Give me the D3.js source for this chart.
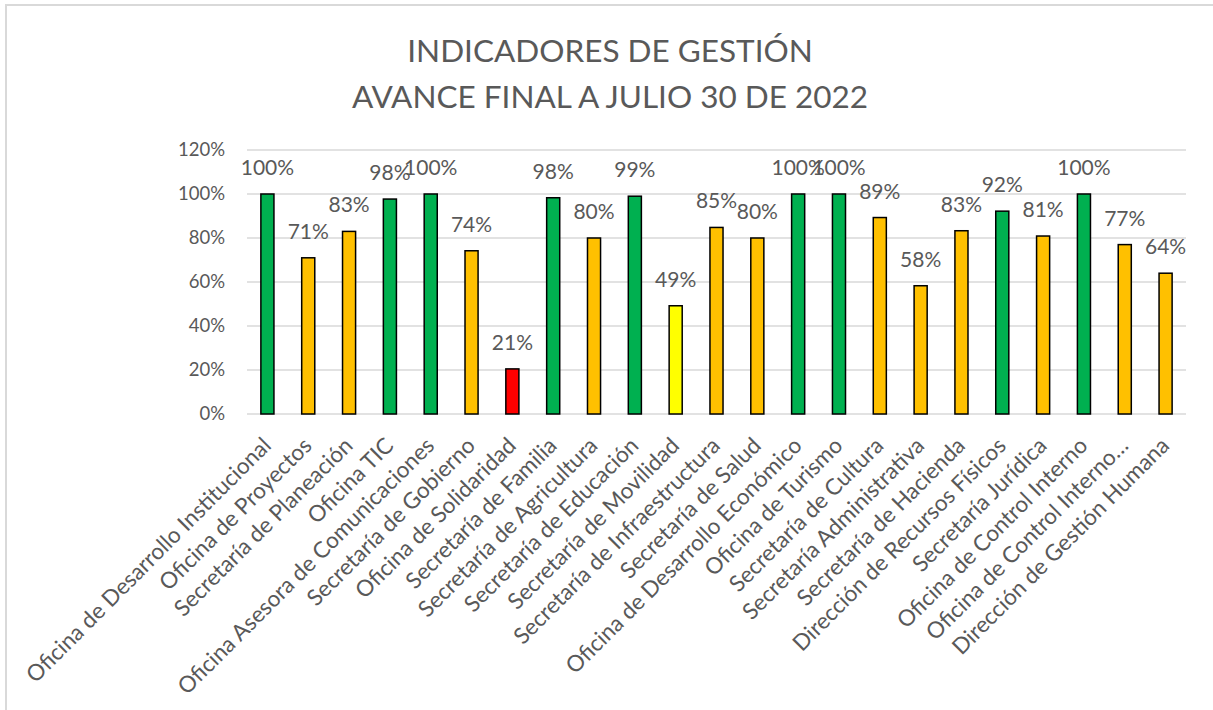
<!DOCTYPE html>
<html>
<head>
<meta charset="utf-8">
<script src="https://cdn.jsdelivr.net/npm/d3@7"></script>
<style>
  body { margin: 0; background: #fff; }
  svg text { font-family: Lato, "Open Sans", sans-serif; fill: #595959; }
</style>
</head>
<body>
<div id="chart"></div>
<script>
// data
var categories = [
    "Oficina de Desarrollo Institucional", "Oficina de Proyectos", "Secretaría de Planeación",
    "Oficina TIC", "Oficina Asesora de Comunicaciones", "Secretaría de Gobierno",
    "Oficina de Solidaridad", "Secretaría de Familia", "Secretaría de Agricultura",
    "Secretaría de Educación", "Secretaría de Movilidad", "Secretaría de Infraestructura",
    "Secretaría de Salud", "Oficina de Desarrollo Económico", "Oficina de Turismo",
    "Secretaría de Cultura", "Secretaría Administrativa", "Secretaría de Hacienda",
    "Dirección de Recursos Físicos", "Secretaría Jurídica", "Oficina de Control Interno",
    "Oficina de Control Interno…", "Dirección de Gestión Humana"
];
var values = [1.00, 0.71, 0.83, 0.977, 1.00, 0.742, 0.205, 0.983, 0.80, 0.99, 0.492, 0.848,
    0.80, 1.00, 1.00, 0.893, 0.583, 0.833, 0.922, 0.809, 1.00, 0.77, 0.64];
var barColors = ["#00B050", "#FFC000", "#FFC000", "#00B050", "#00B050", "#FFC000", "#FF0000",
    "#00B050", "#FFC000", "#00B050", "#FFFF00", "#FFC000", "#FFC000", "#00B050", "#00B050",
    "#FFC000", "#FFC000", "#FFC000", "#00B050", "#FFC000", "#00B050", "#FFC000", "#FFC000"];
var yTicks = [0, 0.2, 0.4, 0.6, 0.8, 1.0, 1.2];
var titleLines = ["INDICADORES DE GESTIÓN", "AVANCE FINAL A JULIO 30 DE 2022"];

var W = 1213, H = 710;
var plot = { left: 247, right: 1186, top: 150, bottom: 414 };

var svg = d3.select("#chart").append("svg")
    .attr("width", W)
    .attr("height", H);

// chart border (only top and left show in the reference)
svg.append("path")
    .attr("d", "M6," + H + "V5H" + W)
    .attr("fill", "none")
    .attr("stroke", "#d9d9d9")
    .attr("stroke-width", 2);

svg.selectAll(".title")
    .data(titleLines)
    .enter().append("text")
    .attr("class", "title")
    .attr("x", 610)
    .attr("y", function(d, i) { return 62 + i * 46; })
    .attr("text-anchor", "middle")
    .style("font-size", "31.5px")
    .text(function(d) { return d; });

var x = d3.scaleBand()
    .domain(categories)
    .range([plot.left, plot.right])
    .paddingInner(0.68)
    .paddingOuter(0.34);

var y = d3.scaleLinear()
    .domain([0, 1.2])
    .range([plot.bottom, plot.top]);

// gridlines
svg.append("g")
    .selectAll("line")
    .data(yTicks)
    .enter().append("line")
    .attr("x1", plot.left)
    .attr("x2", plot.right)
    .attr("y1", function(d) { return y(d); })
    .attr("y2", function(d) { return y(d); })
    .attr("stroke", "#d9d9d9")
    .attr("stroke-width", 1.5);

// y axis labels
var yAxis = d3.axisLeft(y)
    .tickValues(yTicks)
    .tickFormat(d3.format(".0%"))
    .tickSize(0)
    .tickPadding(22);

var gy = svg.append("g")
    .attr("transform", "translate(" + plot.left + ",0)")
    .call(yAxis);
gy.select(".domain").remove();
gy.selectAll("text")
    .style("font-size", "18.5px")
    .attr("fill", "#595959");

// bars
svg.selectAll(".bar")
    .data(values)
    .enter().append("rect")
    .attr("class", "bar")
    .attr("x", function(d, i) { return x(categories[i]); })
    .attr("width", x.bandwidth())
    .attr("y", function(d) { return y(d); })
    .attr("height", function(d) { return plot.bottom - y(d); })
    .attr("fill", function(d, i) { return barColors[i]; })
    .attr("stroke", "#000")
    .attr("stroke-width", 1.5);

// value labels
svg.selectAll(".val")
    .data(values)
    .enter().append("text")
    .attr("class", "val")
    .attr("x", function(d, i) { return x(categories[i]) + x.bandwidth() / 2; })
    .attr("y", function(d) { return y(d) - 19; })
    .attr("text-anchor", "middle")
    .style("font-size", "21px")
    .text(function(d) { return d3.format(".0%")(d); });

// category labels, rotated
var xAxis = d3.axisBottom(x).tickSize(0).tickPadding(0);
var gx = svg.append("g")
    .attr("transform", "translate(0," + plot.bottom + ")")
    .call(xAxis);
gx.select(".domain").remove();
gx.selectAll("text")
    .style("font-size", "22.5px")
    .attr("fill", "#595959")
    .attr("text-anchor", "end")
    .attr("dy", 0)
    .attr("transform", "translate(5,33) rotate(-45)");
</script>
</body>
</html>
